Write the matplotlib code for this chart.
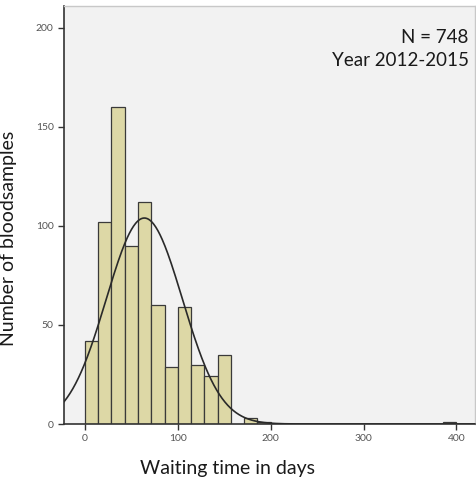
import numpy as np
import matplotlib
matplotlib.use("Agg")
import matplotlib.pyplot as plt

# Data
bin_width = 100 / 7
bin_starts = [0, 1, 2, 3, 4, 5, 6, 7, 8, 9, 10, 12, 13, 27]  # bin index
counts = [42, 102, 160, 90, 112, 60, 29, 59, 30, 24, 35, 3, 1, 1]
fit_mean = 64.0
fit_sd = 41.0
n_total = 748
x_ticks = [0, 100, 200, 300, 400]
y_ticks = [0, 50, 100, 150, 200]

plt.rcParams['font.family'] = ['Lato', 'DejaVu Sans']

fig = plt.figure(figsize=(4.76, 4.79), dpi=100)
ax = fig.add_axes([64/476, 1 - 424/479, 1 - 64/476 - 1/476, (424 - 6)/479])
ax.set_facecolor('#f2f2f2')

lefts = [b * bin_width for b in bin_starts]
ax.bar(lefts, counts, width=bin_width, align='edge', color='#ddd8a6',
       edgecolor='#3a3a3a', linewidth=0.9, zorder=2)

xs = np.linspace(-25, 425, 600)
ys = n_total * bin_width / (fit_sd * np.sqrt(2 * np.pi)) * np.exp(-(xs - fit_mean) ** 2 / (2 * fit_sd ** 2))
ax.plot(xs, ys, color='#2a2a2a', linewidth=1.2, zorder=3)

ax.set_xlim(-22.5, 420)
ax.set_ylim(0, 211)
ax.set_xticks(x_ticks)
ax.set_yticks(y_ticks)
ax.tick_params(axis='both', direction='out', length=4, width=1, color='#333333',
               labelsize=7.5, labelcolor='#555555')
for s in ['left', 'bottom']:
    ax.spines[s].set_color('#333333')
    ax.spines[s].set_linewidth(1.2)
for s in ['top', 'right']:
    ax.spines[s].set_color('#c8c8c8')
    ax.spines[s].set_linewidth(1.0)

ax.set_xlabel('Waiting time in days', fontsize=14, color='#1a1a1a', labelpad=13)
ax.xaxis.set_label_coords(0.398, -0.085)
ax.set_ylabel('Number of bloodsamples', fontsize=14, color='#1a1a1a', labelpad=10)
ax.yaxis.set_label_coords(-0.115, 0.443)

ax.text(0.985, 0.925, 'N = 748', transform=ax.transAxes, ha='right', va='center',
        fontsize=13.5, color='#1a1a1a')
ax.text(0.985, 0.87, 'Year 2012-2015', transform=ax.transAxes, ha='right', va='center',
        fontsize=13.5, color='#1a1a1a')

fig.savefig('out.png', dpi=100, facecolor='white')
